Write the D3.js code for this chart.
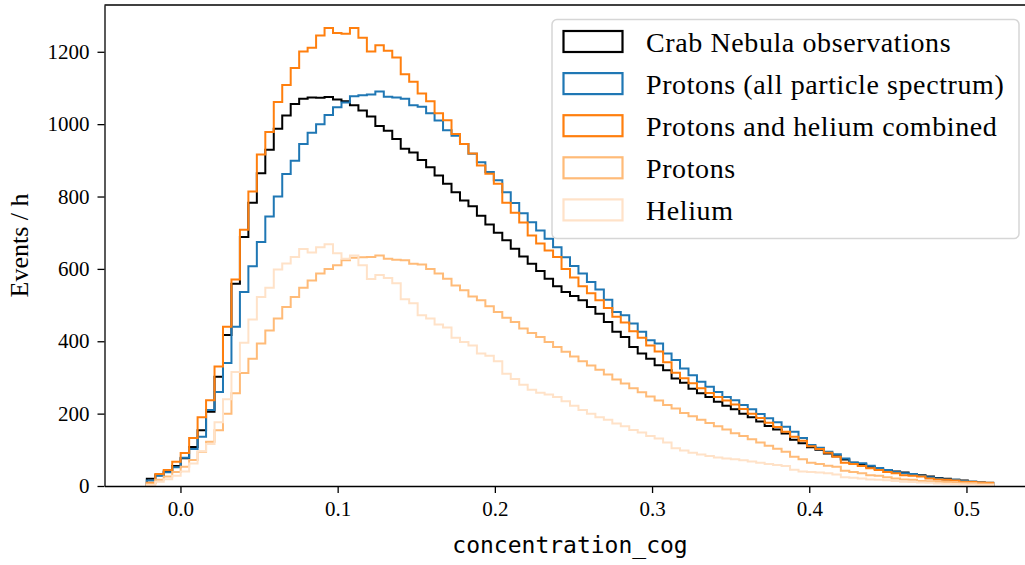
<!DOCTYPE html>
<html>
<head>
<meta charset="utf-8">
<script src="https://cdn.jsdelivr.net/npm/d3@7"></script>
<style>
  body { margin: 0; background: #fff; }
  svg { display: block; }
  text { font-family: "Liberation Serif", serif; fill: #000; }
</style>
</head>
<body>
<div id="chart"></div>
<script>
// histogram binning: 100 equal bins between these edges
var binMin = -0.0214;
var binMax = 0.517;
var nBins = 100;

var crab = [20, 30, 40, 55, 77, 108, 154, 205, 302, 417,
  559, 688, 783, 864, 929, 987, 1024, 1056, 1070, 1074,
  1073, 1075, 1068, 1063, 1052, 1038, 1021, 995, 982, 959,
  932, 922, 901, 881, 858, 835, 812, 789, 773, 747,
  723, 700, 679, 656, 634, 614, 594, 573, 552, 536,
  525, 513, 495, 476, 453, 426, 412, 384, 366, 352,
  334, 320, 297, 285, 269, 256, 246, 233, 222, 212,
  200, 190, 178, 166, 156, 145, 128, 118, 107, 100,
  90, 82, 73, 64, 60, 53, 48, 44, 40, 37,
  33, 30, 26, 22, 20, 17, 15, 12, 10, 8];

var protonsAll = [15, 28, 38, 52, 78, 102, 136, 210, 260, 340,
  440, 536, 607, 674, 745, 800, 862, 899, 945, 976,
  1000, 1025, 1047, 1060, 1077, 1080, 1082, 1090, 1076, 1074,
  1070, 1052, 1048, 1030, 1010, 983, 968, 945, 918, 895,
  868, 845, 812, 782, 754, 729, 706, 683, 660, 632,
  608, 587, 564, 543, 515, 481, 472, 449, 426, 403,
  394, 366, 348, 325, 306, 288, 274, 260, 246, 237,
  224, 212, 199, 187, 176, 164, 150, 133, 113, 106,
  95, 88, 76, 65, 63, 56, 50, 44, 39, 35,
  33, 28, 24, 21, 18, 17, 14, 12, 10, 9];

var combined = [9, 33, 44, 67, 91, 133, 190, 237, 330, 440,
  571, 708, 814, 916, 978, 1061, 1108, 1155, 1201, 1211,
  1245, 1266, 1252, 1250, 1266, 1239, 1201, 1218, 1203, 1184,
  1138, 1117, 1085, 1063, 1030, 1011, 973, 945, 919, 886,
  863, 835, 783, 755, 728, 692, 670, 651, 633, 600,
  576, 552, 533, 513, 492, 468, 452, 428, 410, 388,
  372, 342, 313, 298, 284, 270, 257, 246, 236, 225,
  213, 200, 188, 175, 163, 150, 136, 125, 110, 102,
  92, 81, 64, 61, 55, 49, 44, 39, 35, 30,
  28, 26, 21, 18, 17, 15, 12, 11, 10, 9];

var protons = [7, 17, 26, 39, 53, 72, 95, 122, 154, 200,
  256, 312, 352, 394, 430, 463, 495, 522, 548, 568,
  587, 600, 610, 624, 631, 632, 633, 637, 628, 625,
  624, 614, 612, 600, 587, 573, 554, 541, 524, 513,
  497, 481, 465, 453, 435, 423, 412, 398, 384, 371,
  358, 345, 333, 321, 308, 294, 283, 270, 259, 247,
  236, 224, 214, 202, 193, 183, 174, 165, 156, 146,
  138, 129, 120, 111, 103, 95, 81, 74, 64, 61,
  56, 53, 42, 39, 35, 30, 28, 24, 21, 18,
  17, 14, 13, 12, 11, 10, 9, 8, 7, 6];

var helium = [3, 12, 19, 28, 40, 62, 96, 116, 176, 240,
  315, 396, 460, 522, 548, 598, 615, 633, 655, 645,
  660, 668, 643, 628, 637, 610, 572, 583, 575, 560,
  516, 505, 472, 463, 446, 438, 410, 398, 388, 366,
  360, 345, 310, 296, 280, 266, 258, 253, 246, 234,
  222, 210, 200, 190, 183, 173, 165, 155, 148, 138,
  131, 120, 104, 98, 92, 87, 83, 79, 76, 74,
  71, 68, 64, 61, 58, 55, 45, 40, 39, 37,
  35, 32, 24, 23, 21, 18, 17, 16, 14, 12,
  11, 10, 9, 7, 6, 5, 4, 4, 3, 3];

var seriesNames = ["Crab Nebula observations", "Protons (all particle spectrum)",
  "Protons and helium combined", "Protons", "Helium"];
var seriesColors = ["#000000", "#1f77b4", "#ff7f0e", "#ffbb78", "#ffe2c8"];
var seriesValues = [crab, protonsAll, combined, protons, helium];

var xTicks = [0.0, 0.1, 0.2, 0.3, 0.4, 0.5];
var yTicks = [0, 200, 400, 600, 800, 1000, 1200];

var width = 1025, height = 565;
var plot = { left: 104.5, top: 5, bottom: 486, right: 1035.5 };

var svg = d3.select("#chart").append("svg")
  .attr("width", width)
  .attr("height", height);

var edges = d3.range(nBins + 1).map(function(i) {
  return binMin + (binMax - binMin) * i / nBins;
});

// matplotlib-like 5% margins
var pad = 0.05 * (binMax - binMin);
var x = d3.scaleLinear()
  .domain([binMin - pad, binMax + pad])
  .range([plot.left, plot.right]);

var yMax = d3.max(seriesValues, function(s) { return d3.max(s); });
var y = d3.scaleLinear()
  .domain([0, yMax * 1.05])
  .range([plot.bottom, plot.top]);

// step lines
var line = d3.line()
  .x(function(d) { return x(d[0]); })
  .y(function(d) { return y(d[1]); })
  .curve(d3.curveStepAfter);

seriesValues.forEach(function(vals, k) {
  var pts = [[edges[0], 0]];
  vals.forEach(function(v, i) { pts.push([edges[i], v]); });
  pts.push([edges[nBins], vals[nBins - 1]]);
  pts.push([edges[nBins], 0]);
  svg.append("path")
    .attr("d", line(pts))
    .attr("fill", "none")
    .attr("stroke", seriesColors[k])
    .attr("stroke-width", 2)
    .attr("stroke-linejoin", "miter");
});

// axes
var xAxis = d3.axisBottom(x).tickValues(xTicks).tickFormat(d3.format(".1f"))
  .tickSizeInner(7).tickSizeOuter(0).tickPadding(8);
var gx = svg.append("g")
  .attr("transform", "translate(0," + plot.bottom + ")")
  .call(xAxis);

var yAxis = d3.axisLeft(y).tickValues(yTicks).tickFormat(d3.format("d"))
  .tickSizeInner(7).tickSizeOuter(0).tickPadding(8);
var gy = svg.append("g")
  .attr("transform", "translate(" + plot.left + ",0)")
  .call(yAxis);

[gx, gy].forEach(function(g) {
  g.select(".domain").attr("stroke", "#000").attr("stroke-width", 1.3);
  g.selectAll(".tick line").attr("stroke", "#000").attr("stroke-width", 1.3);
  g.selectAll(".tick text")
    .style("font-family", "'Liberation Serif', serif")
    .style("font-size", "21px");
});

// top spine
svg.append("line")
  .attr("x1", plot.left).attr("x2", plot.right)
  .attr("y1", plot.top).attr("y2", plot.top)
  .attr("stroke", "#000").attr("stroke-width", 1.3);

// axis labels
svg.append("text")
  .attr("x", (plot.left + 1035.5) / 2)
  .attr("y", 553)
  .attr("text-anchor", "middle")
  .style("font-family", "'DejaVu Sans Mono', monospace")
  .style("font-size", "23px")
  .text("concentration_cog");

svg.append("text")
  .attr("transform", "translate(28," + ((plot.top + plot.bottom) / 2) + ") rotate(-90)")
  .attr("text-anchor", "middle")
  .style("font-size", "26px")
  .text("Events / h");

// legend
var legend = svg.append("g");
legend.append("rect")
  .attr("x", 552).attr("y", 19.5)
  .attr("width", 467).attr("height", 219)
  .attr("rx", 5)
  .attr("fill", "#fff").attr("fill-opacity", 0.8)
  .attr("stroke", "#d6d6d6").attr("stroke-width", 1.5);

seriesNames.forEach(function(name, k) {
  var cy = 41.5 + k * 42.1;
  legend.append("rect")
    .attr("x", 563.5).attr("y", cy - 10.5)
    .attr("width", 59).attr("height", 21)
    .attr("fill", "none")
    .attr("stroke", seriesColors[k])
    .attr("stroke-width", 2.2);
  legend.append("text")
    .attr("x", 646).attr("y", cy + 10)
    .style("font-size", "28px")
    .style("letter-spacing", "0.6px")
    .text(name);
});
</script>
</body>
</html>
